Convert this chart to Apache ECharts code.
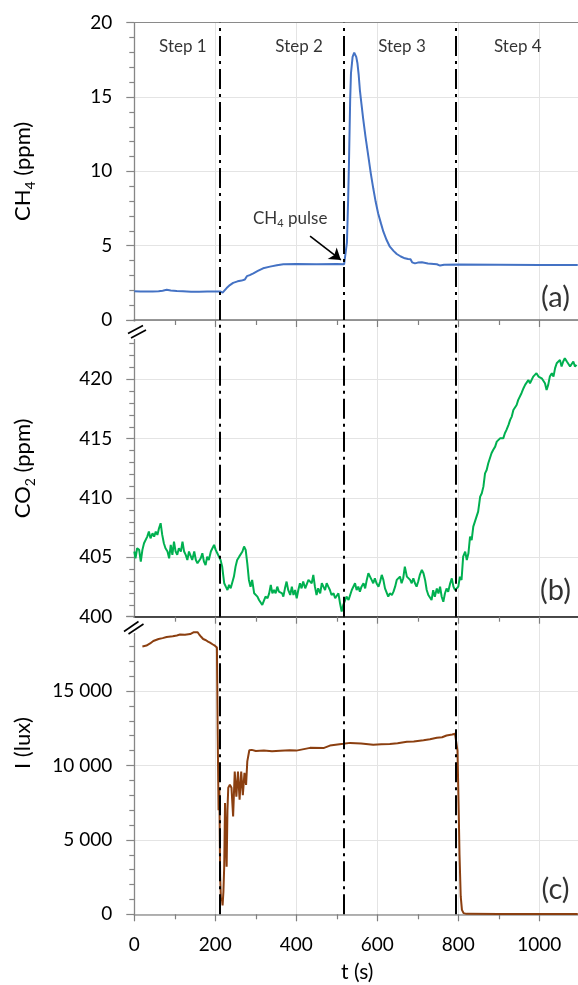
<!DOCTYPE html>
<html>
<head>
<meta charset="utf-8">
<script src="https://cdn.jsdelivr.net/npm/echarts@6/dist/echarts.min.js"></script>
<style>
html,body{margin:0;padding:0;background:#fff;}
#chart{width:578px;height:985px;}
</style>
</head>
<body>
<div id="chart"></div>
<script>
// ---- data (t in s) ----
const ch4Points = [[0,1.93],[15,1.92],[30,1.92],[45,1.91],[60,1.93],[70,1.97],[80,2.03],[90,1.98],[105,1.95],[120,1.93],[140,1.90],[160,1.90],[180,1.91],[200,1.92],[212,1.92],[218,1.84],[228,2.15],[236,2.35],[244,2.50],[255,2.60],[265,2.65],[273,2.72],[278,2.95],[285,3.02],[294,3.14],[305,3.30],[318,3.48],[335,3.59],[352,3.68],[368,3.75],[400,3.76],[450,3.75],[500,3.76],[518,3.75],[522,3.78],[525,5.2],[528,8.07],[530,10.5],[533,14.8],[535,16.6],[539,17.7],[543,17.98],[545,17.98],[548,17.7],[551,17.27],[554,16.5],[557,15.47],[561,14.5],[565,13.57],[571,12.3],[578,10.99],[584,9.85],[590,8.86],[596,7.95],[602,7.18],[609,6.5],[615,5.94],[623,5.38],[631,4.93],[640,4.65],[648,4.44],[658,4.27],[668,4.15],[676,4.10],[679,4.18],[682,4.08],[686,3.88],[693,3.81],[700,3.86],[710,3.88],[725,3.80],[747,3.75],[755,3.66],[765,3.72],[800,3.73],[900,3.72],[1000,3.70],[1095,3.70]];

const co2Points = [[0,405.49],[3,404.92],[7,405.77],[12,405.63],[16,404.64],[20,405.63],[24,406.19],[28,406.33],[32,406.75],[36,407.17],[40,406.61],[45,407.03],[49,406.75],[53,407.17],[57,406.89],[61,407.45],[65,407.88],[69,406.89],[73,406.19],[77,405.77],[82,405.49],[86,404.92],[90,406.05],[94,405.21],[98,406.33],[102,405.49],[106,405.21],[110,405.77],[115,405.49],[119,406.33],[123,405.49],[127,405.21],[131,404.78],[135,405.49],[139,405.63],[143,404.78],[148,405.49],[152,404.78],[156,404.50],[160,404.36],[164,404.92],[168,405.35],[172,404.64],[176,404.36],[180,405.06],[184,404.78],[189,405.49],[193,405.49],[197,406.05],[201,405.63],[205,405.35],[209,405.06],[213,404.78],[217,404.22],[220,403.38],[222,402.82],[226,402.53],[230,402.25],[234,402.68],[238,402.39],[242,402.53],[246,403.38],[250,404.22],[254,404.78],[259,405.06],[263,404.92],[267,405.49],[271,405.91],[275,405.63],[279,404.50],[283,403.10],[287,402.53],[291,403.10],[296,401.97],[300,401.83],[304,401.69],[308,401.41],[312,401.27],[316,400.99],[320,401.13],[324,401.69],[329,401.55],[333,401.97],[337,402.68],[341,401.97],[345,402.25],[349,401.97],[353,402.53],[357,402.11],[361,402.25],[365,401.97],[368,401.69],[372,402.39],[376,402.96],[380,402.25],[385,401.83],[389,402.53],[393,401.83],[397,402.25],[401,401.55],[405,402.25],[409,402.82],[413,402.39],[417,402.96],[422,402.39],[426,402.53],[430,403.10],[434,403.24],[438,402.82],[442,403.52],[446,402.53],[450,401.83],[454,402.39],[459,401.97],[463,402.82],[467,402.53],[471,402.25],[475,402.82],[479,402.53],[483,402.25],[487,401.83],[492,401.97],[496,401.55],[500,401.69],[504,401.97],[508,401.13],[512,400.43],[516,400.99],[520,401.13],[524,401.69],[529,401.41],[533,401.83],[537,402.25],[541,402.39],[545,402.82],[549,402.25],[553,402.53],[557,402.11],[561,402.53],[566,402.82],[570,402.39],[574,403.10],[578,403.66],[582,403.38],[586,403.10],[590,402.82],[594,403.24],[598,402.82],[603,402.53],[607,402.96],[611,403.52],[615,403.10],[619,402.39],[623,402.25],[627,401.69],[631,401.97],[636,401.83],[640,402.11],[644,402.53],[648,403.10],[652,402.96],[656,403.38],[660,402.82],[664,403.24],[668,404.22],[673,403.38],[677,403.24],[681,403.10],[685,402.82],[689,403.24],[693,402.82],[697,402.53],[701,402.96],[705,403.52],[710,403.94],[714,403.66],[718,403.10],[722,402.25],[726,401.83],[730,401.96],[734,401.40],[738,402.24],[742,401.68],[747,402.38],[751,401.96],[755,402.53],[759,401.68],[763,401.26],[767,401.96],[771,402.38],[775,402.10],[780,402.81],[784,403.23],[788,402.53],[792,402.24],[796,402.10],[800,402.53],[804,403.37],[808,403.09],[812,405.06],[817,405.48],[821,404.77],[825,405.34],[829,406.74],[833,406.46],[837,407.59],[841,408.01],[845,408.43],[849,408.85],[854,410.12],[858,410.40],[862,410.96],[866,412.08],[870,412.36],[874,412.93],[878,413.35],[882,413.77],[886,414.05],[891,414.33],[895,414.75],[899,414.89],[903,415.03],[907,415.17],[911,415.03],[915,415.46],[919,415.74],[924,416.16],[928,416.58],[932,416.86],[936,417.42],[940,417.56],[944,417.84],[948,418.27],[952,418.41],[956,418.83],[961,419.25],[965,419.53],[969,419.67],[973,419.95],[977,419.67],[981,419.81],[985,420.23],[989,420.09],[993,420.52],[998,420.23],[1002,420.38],[1006,420.09],[1010,419.95],[1014,419.67],[1018,419.11],[1022,419.53],[1026,420.23],[1031,420.52],[1035,420.23],[1039,420.94],[1043,421.36],[1047,421.22],[1051,421.64],[1055,421.08],[1059,421.50],[1063,421.78],[1068,421.50],[1072,421.36],[1076,421.08],[1080,421.22],[1084,421.50],[1088,421.08],[1092,421.22]];

const luxPoints = [[20,18000],[30,18060],[39,18200],[47,18370],[60,18500],[70,18560],[80,18640],[95,18680],[105,18740],[113,18800],[125,18780],[138,18830],[146,18950],[150,19000],[156,18960],[160,18820],[165,18650],[170,18500],[177,18420],[182,18330],[187,18260],[193,18150],[199,18050],[204,17930],[206,12000],[208,7000],[210,8400],[212,2500],[214,900],[216,1100],[218,600],[220,1500],[222,3200],[224,7480],[226,5000],[228,3200],[230,7000],[232,8500],[236,8700],[240,8500],[244,6580],[248,9600],[252,7900],[256,9600],[260,7700],[264,9600],[268,8000],[272,9500],[276,8700],[279,10280],[284,11025],[290,11050],[300,10980],[320,11000],[340,10950],[360,10990],[384,11025],[400,11000],[434,11185],[467,11170],[483,11340],[516,11455],[533,11520],[560,11480],[590,11390],[610,11420],[631,11450],[650,11500],[673,11590],[690,11620],[714,11700],[730,11760],[747,11860],[760,11900],[771,12015],[785,12080],[792,12130],[796,12050],[798,11000],[801,7000],[803,4000],[806,1200],[809,300],[813,80],[820,30],[900,20],[1000,20],[1095,20]];

const stepBounds = [212, 518, 794];
const stepNames = ['Step 1', 'Step 2', 'Step 3', 'Step 4'];
const stepCenters = [120, 407, 661, 947];
const stepLabelLevel = 18.4;
const panelLabels = ['(a)', '(b)', '(c)'];
const panelLabelPos = [[1040, 1.48], [1040, 402.17], [1040, 1640]];
const pulseLabel = [385, 6.84];
const pulseArrow = [[434, 5.65], [510, 4.04]];

const xRange = [0, 1200];
const xStep = 200;
const yRanges = [[0, 20, 5], [400, 425, 5], [0, 20000, 5000]];
const yNames = ['{n|CH}{s|4}{n| (ppm)}', '{n|CO}{s|2}{n| (ppm)}', ''];
const luxName = 'I (lux)';
const colors = ['#4472C4', '#00B050', '#8B3F10'];

// ---- layout ----
const FONT = 'Lato';
const gridL = 134.3, gridW = 486;
const grids = [
  {left: gridL, width: gridW, top: 22.7, height: 297.3, outerBoundsMode: 'none', containLabel: false},
  {left: gridL, width: gridW, top: 320, height: 296.7, outerBoundsMode: 'none', containLabel: false},
  {left: gridL, width: gridW, top: 616.7, height: 297.6, outerBoundsMode: 'none', containLabel: false}
];
const xLineColors = ['#767676', '#111111', '#9a9a9a'];

const xAxes = grids.map((g, i) => ({
  type: 'value', gridIndex: i, min: xRange[0], max: xRange[1], interval: xStep,
  axisLine: {show: true, onZero: false, lineStyle: {color: xLineColors[i], width: 1.6}},
  axisTick: {show: true, length: 7, lineStyle: {color: '#7f7f7f', width: 1.2}},
  minorTick: {show: true, splitNumber: 2, length: 5, lineStyle: {color: '#7f7f7f', width: 1.2}},
  splitLine: {show: true, lineStyle: {color: '#e4e4e4', width: 1}},
  axisLabel: {show: i === 2, margin: 21, fontFamily: FONT, fontSize: 19, color: '#000', showMaxLabel: false, formatter: v => String(v)},
  name: i === 2 ? 't (s)' : '',
  nameLocation: 'middle', nameGap: 47,
  nameTextStyle: {fontFamily: FONT, fontSize: 21, color: '#000', padding: [0, 40, 0, 0]}
}));
xAxes.push({
  type: 'value', gridIndex: 0, position: 'top', min: xRange[0], max: xRange[1],
  axisLine: {show: true, onZero: false, lineStyle: {color: '#8a8a8a', width: 1.2}},
  axisTick: {show: false}, axisLabel: {show: false}, splitLine: {show: false}
});

function fmtY(i) {
  return function (v) {
    if (v === yRanges[i][1] && i > 0) return '';
    if (i === 2) {
      const s = String(v);
      return s.length > 3 ? s.slice(0, s.length - 3) + ' ' + s.slice(-3) : s;
    }
    return String(v);
  };
}

const yAxes = grids.map((g, i) => ({
  type: 'value', gridIndex: i, min: yRanges[i][0], max: yRanges[i][1], interval: yRanges[i][2],
  axisLine: {show: true, onZero: false, lineStyle: {color: '#868686', width: 1.3}},
  axisTick: {show: true, length: 8, lineStyle: {color: '#868686', width: 1.2}},
  minorTick: {show: true, splitNumber: 5, length: 5, lineStyle: {color: '#868686', width: 1.2}},
  splitLine: {show: true, lineStyle: {color: '#e4e4e4', width: 1}},
  axisLabel: {margin: 22, fontFamily: FONT, fontSize: 19, color: '#000', formatter: fmtY(i)},
  name: yNames[i], nameLocation: 'middle', nameGap: 97, nameRotate: 90,
  nameTextStyle: {
    fontFamily: FONT, fontSize: 22, color: '#000',
    rich: {
      n: {fontFamily: FONT, fontSize: 22, color: '#000', lineHeight: 28, verticalAlign: 'middle'},
      s: {fontFamily: FONT, fontSize: 14, color: '#000', lineHeight: 14, verticalAlign: 'bottom'}
    }
  }
}));

const stepLine = {
  silent: true, symbol: 'none', animation: false,
  label: {show: false},
  lineStyle: {color: '#000', width: 2, type: [20, 5, 3, 5]},
  data: stepBounds.map(x => ({xAxis: x}))
};

const series = [];
[ch4Points, co2Points, luxPoints].forEach((pts, i) => {
  series.push({
    type: 'line', xAxisIndex: i, yAxisIndex: i, data: pts,
    showSymbol: false, symbol: 'none', smooth: false, animation: false,
    lineStyle: {color: colors[i], width: 2}, itemStyle: {color: colors[i]},
    markLine: stepLine, z: 3
  });
});

// step labels
series.push({
  type: 'scatter', xAxisIndex: 0, yAxisIndex: 0, symbolSize: 0, silent: true, animation: false,
  data: stepNames.map((n, k) => ({name: n, value: [stepCenters[k], stepLabelLevel]})),
  label: {show: true, position: 'inside', formatter: p => p.name, fontFamily: FONT, fontSize: 17, color: '#000'}
});
// pulse annotation with arrow
series.push({
  type: 'scatter', xAxisIndex: 0, yAxisIndex: 0, symbolSize: 0, silent: true, animation: false,
  data: [{name: 'pulse', value: pulseLabel}],
  label: {
    show: true, position: 'inside', formatter: '{n|CH}{s|4}{n| pulse}',
    rich: {
      n: {fontFamily: FONT, fontSize: 17, color: '#000', lineHeight: 21, verticalAlign: 'middle'},
      s: {fontFamily: FONT, fontSize: 11, color: '#000', lineHeight: 11, verticalAlign: 'bottom'}
    }
  },
  markLine: {
    silent: true, animation: false, symbol: ['none', 'arrow'], symbolSize: 11,
    label: {show: false},
    lineStyle: {color: '#000', width: 1.6, type: 'solid'},
    data: [[{coord: pulseArrow[0]}, {coord: pulseArrow[1]}]]
  }
});
// panel labels
panelLabels.forEach((lab, i) => {
  series.push({
    type: 'scatter', xAxisIndex: i, yAxisIndex: i, symbolSize: 0, silent: true, animation: false,
    data: [{name: lab, value: panelLabelPos[i]}],
    label: {show: true, position: 'inside', formatter: p => p.name, fontFamily: FONT, fontSize: 29, color: '#000'}
  });
});

// axis break marks (decoration)
function breakMark(yTop, yBot, s1, s2) {
  return [
    {type: 'rect', z: 100, shape: {x: 122, y: yTop, width: 26, height: yBot - yTop}, style: {fill: '#fff'}},
    {type: 'line', z: 101, shape: {x1: s1[0], y1: s1[1], x2: s1[2], y2: s1[3]}, style: {stroke: '#000', lineWidth: 1.6}},
    {type: 'line', z: 101, shape: {x1: s2[0], y1: s2[1], x2: s2[2], y2: s2[3]}, style: {stroke: '#000', lineWidth: 1.6}}
  ];
}

const option = {
  backgroundColor: '#fff',
  animation: false,
  grid: grids,
  xAxis: xAxes,
  yAxis: yAxes,
  series: series,
  graphic: [].concat(
    breakMark(321.5, 339, [128, 333.5, 143, 325.5], [131, 338, 146, 330]),
    breakMark(618, 633, [124, 631.5, 138.5, 621.5], [128.5, 634, 143.5, 624]),
    [{
      type: 'text', z: 102, x: 23, y: 743, rotation: Math.PI / 2,
      style: {text: luxName, fontFamily: FONT, fontSize: 22, fill: '#000', align: 'center', verticalAlign: 'middle'}
    }]
  )
};

const chart = echarts.init(document.getElementById('chart'), null, {renderer: 'canvas'});
chart.setOption(option);
</script>
</body>
</html>
